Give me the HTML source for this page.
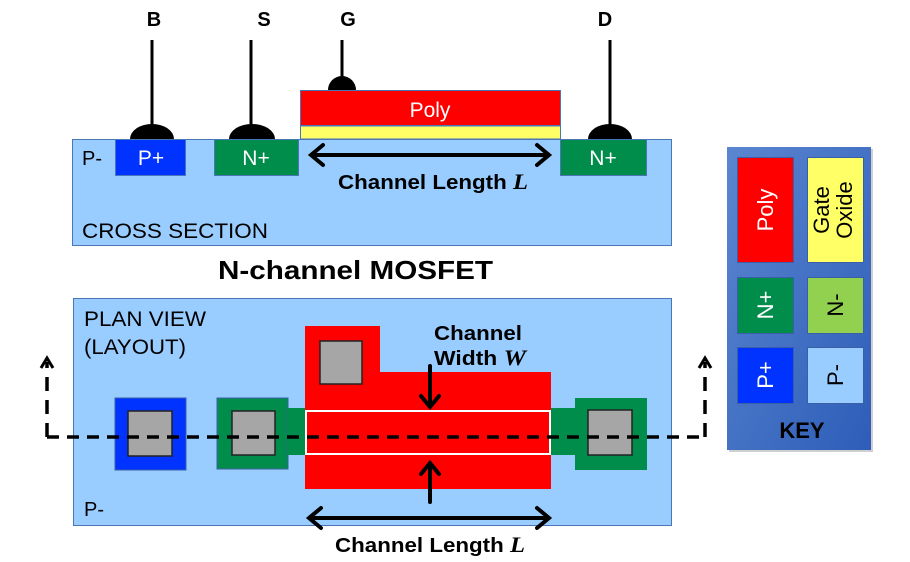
<!DOCTYPE html>
<html><head><style>body{margin:0;background:#fff}svg{display:block}text{font-family:"Liberation Sans",Arial,sans-serif}</style></head><body>
<svg width="910" height="562" viewBox="0 0 910 562" xmlns="http://www.w3.org/2000/svg">
<defs>
<linearGradient id="kg" x1="0" y1="0" x2="1" y2="1"><stop offset="0" stop-color="#5b86d0"/><stop offset="1" stop-color="#2d5db8"/></linearGradient>
</defs>
<g font-weight="bold" font-size="20" fill="#000" text-anchor="middle">
<text x="154" y="26">B</text><text x="264" y="26">S</text><text x="348" y="26">G</text><text x="605" y="26">D</text></g>
<g stroke="#000" stroke-width="3"><line x1="152" y1="40" x2="152" y2="128"/><line x1="251" y1="40" x2="251" y2="128"/><line x1="342" y1="40" x2="342" y2="78"/><line x1="610" y1="40" x2="610" y2="128"/></g>
<g fill="#000"><path d="M130 139 A22 15 0 0 1 174 139Z"/><path d="M229 139 A23 15 0 0 1 275 139Z"/><path d="M328 90 A14 14 0 0 1 356 90Z"/><path d="M588 139 A22 15 0 0 1 632 139Z"/></g>
<rect x="72.5" y="139.5" width="599" height="106" fill="#99ccff" stroke="#4a76b8"/>
<rect x="300.5" y="90.5" width="260" height="35" fill="#ff0000" stroke="#4a76b8"/>
<rect x="300.5" y="126" width="260" height="13" fill="#ffff66" stroke="#4a76b8"/>
<rect x="115.5" y="139.5" width="70" height="36" fill="#0033ff" stroke="#4a76b8"/>
<rect x="214.5" y="139.5" width="84" height="36" fill="#008c4a" stroke="#4a76b8"/>
<rect x="560.5" y="139.5" width="86" height="36" fill="#008c4a" stroke="#4a76b8"/>
<g font-size="21" fill="#fff" text-anchor="middle"><text x="430" y="117">Poly</text><text x="151" y="165">P+</text><text x="256" y="165">N+</text><text x="603" y="165">N+</text></g>
<text x="82" y="165" font-size="20">P-</text>
<text x="82" y="238" font-size="21" textLength="186" lengthAdjust="spacingAndGlyphs">CROSS SECTION</text>
<g stroke="#000" stroke-width="4" fill="none" stroke-linecap="round"><line x1="312" y1="155" x2="548" y2="155"/><polyline points="323,145 311,155 323,165"/><polyline points="537,145 549,155 537,165"/></g>
<text x="338" y="189" font-size="20" font-weight="bold" textLength="190" lengthAdjust="spacingAndGlyphs">Channel Length <tspan font-family="Liberation Serif" font-style="italic" font-size="22">L</tspan></text>
<text x="218" y="279" font-size="26" font-weight="bold" textLength="275" lengthAdjust="spacingAndGlyphs">N-channel MOSFET</text>
<rect x="73.5" y="298.5" width="598" height="227" fill="#99ccff" stroke="#4a76b8"/>
<text x="84" y="326" font-size="21" textLength="122" lengthAdjust="spacingAndGlyphs">PLAN VIEW</text><text x="84" y="354" font-size="21" textLength="102" lengthAdjust="spacingAndGlyphs">(LAYOUT)</text>
<text x="84" y="516" font-size="20">P-</text>
<rect x="115" y="398" width="71" height="72" fill="#0033ff" stroke="#3a5fa8"/>
<rect x="217" y="398" width="71" height="71" fill="#008c4a" stroke="#3a5fa8"/>
<rect x="288" y="408" width="17" height="47" fill="#008c4a"/>
<rect x="551" y="408" width="24" height="47" fill="#008c4a"/>
<rect x="575" y="398" width="72" height="72" fill="#008c4a"/>
<path d="M305 326 H380 V372 H551 V489 H305Z" fill="#ff0000"/>
<rect x="306" y="411" width="244" height="43" fill="#ff0000" stroke="#fff" stroke-width="2"/>
<g fill="#a6a6a6" stroke="#222" stroke-width="1.5"><rect x="128" y="411" width="44" height="45"/><rect x="232" y="411" width="43" height="44"/><rect x="320" y="341" width="42" height="43"/><rect x="588" y="410" width="44" height="45"/></g>
<g stroke="#000" stroke-width="3.5" fill="none"><path d="M47 437 H705" stroke-dasharray="12 8"/><path d="M47 437 V362" stroke-dasharray="14 9"/><path d="M705 437 V362" stroke-dasharray="14 9"/></g>
<g stroke="#000" stroke-width="3" fill="none"><polyline points="41,368 47,358 53,368"/><polyline points="699,368 705,358 711,368"/></g>
<text x="434" y="340" font-size="20" font-weight="bold" textLength="88" lengthAdjust="spacingAndGlyphs">Channel</text>
<text x="434" y="365" font-size="20" font-weight="bold" textLength="92" lengthAdjust="spacingAndGlyphs">Width <tspan font-family="Liberation Serif" font-style="italic" font-size="22">W</tspan></text>
<g stroke="#000" stroke-width="4" fill="none" stroke-linecap="round"><line x1="430" y1="366" x2="430" y2="406"/><polyline points="421,396 430,407 439,396"/><line x1="430" y1="502" x2="430" y2="464"/><polyline points="421,474 430,463 439,474"/>
<line x1="310" y1="518" x2="548" y2="518"/><polyline points="321,508 309,518 321,528"/><polyline points="537,508 549,518 537,528"/></g>
<text x="335" y="552" font-size="20" font-weight="bold" textLength="190" lengthAdjust="spacingAndGlyphs">Channel Length <tspan font-family="Liberation Serif" font-style="italic" font-size="22">L</tspan></text>
<rect x="729" y="149" width="144" height="303" fill="#888" opacity="0.4"/>
<rect x="727" y="147" width="144" height="303" fill="url(#kg)"/>
<g stroke="#3a5fa8"><rect x="737.5" y="157.5" width="56" height="105" fill="#ff0000"/><rect x="807.5" y="157.5" width="56" height="105" fill="#ffff66"/>
<rect x="737.5" y="277.5" width="56" height="56" fill="#008c4a"/><rect x="807.5" y="277.5" width="56" height="56" fill="#92d050"/>
<rect x="737.5" y="347.5" width="56" height="56" fill="#0033ff"/><rect x="807.5" y="347.5" width="56" height="56" fill="#99ccff"/></g>
<g font-size="22" text-anchor="middle">
<text transform="translate(773,210) rotate(-90)" fill="#fff">Poly</text>
<text transform="translate(829,210) rotate(-90)" fill="#000">Gate</text>
<text transform="translate(852,210) rotate(-90)" fill="#000">Oxide</text>
<text transform="translate(773,305) rotate(-90)" fill="#fff">N+</text>
<text transform="translate(843,305) rotate(-90)" fill="#000">N-</text>
<text transform="translate(773,375) rotate(-90)" fill="#fff">P+</text>
<text transform="translate(843,375) rotate(-90)" fill="#000">P-</text></g>
<text x="802" y="438" font-size="22" font-weight="bold" text-anchor="middle">KEY</text>
</svg>
</body></html>
